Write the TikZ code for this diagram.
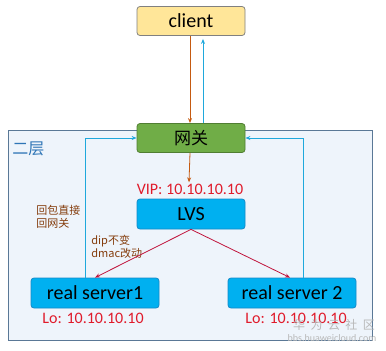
\documentclass[tikz,border=0pt]{standalone}
\usepackage{fontspec}
\setmainfont{Carlito}
\newfontfamily\cjk{Noto Sans CJK SC}
\usetikzlibrary{arrows.meta}

\definecolor{clientfill}{HTML}{FFE699}
\definecolor{gwfill}{HTML}{70AD47}
\definecolor{gwline}{HTML}{507E32}
\definecolor{srvfill}{HTML}{00B0F0}
\definecolor{srvline}{HTML}{1489C8}
\definecolor{layerfill}{HTML}{EEF4FB}
\definecolor{layerline}{HTML}{5A7896}
\definecolor{reqbrown}{HTML}{C55A11}
\definecolor{retblue}{HTML}{1FA8DC}
\definecolor{fwdred}{HTML}{C0143C}
\definecolor{ipred}{HTML}{E01B2B}
\definecolor{notebrown}{HTML}{843C0C}
\definecolor{layerblue}{HTML}{2E75B6}

\begin{document}
\begin{tikzpicture}[
    x=1pt, y=-1pt,
    >={Stealth[length=5pt,width=4pt]},
    line width=0.8pt,
    box/.style={draw, rectangle, rounded corners=3pt, minimum height=29pt, minimum width=108pt, align=center, font=\fontsize{20}{24}\selectfont},
    srv/.style={box, fill=srvfill, draw=srvline, minimum width=128pt, minimum height=30pt},
    ip/.style={text=ipred, inner sep=0pt, font=\fontsize{16}{19}\selectfont},
    note/.style={text=notebrown, align=left, inner sep=0pt, font=\cjk\fontsize{11}{12.5}\selectfont}
]
    \useasboundingbox (0,0) rectangle (386,351);

    % layer 2 area
    \draw[fill=layerfill, draw=layerline] (8,130) rectangle (372,340);
    \node[text=layerblue, anchor=west, inner sep=0pt, font=\cjk\fontsize{16}{19}\selectfont] (layer) at (12,149) {二层};

    % nodes
    \node[box, fill=clientfill, draw=gray] (client) at (191,21) {client};
    \node[box, fill=gwfill, draw=gwline, font=\cjk\fontsize{17}{20}\selectfont] (gw) at (191,138) {网关};
    \node[ip] (vip) at (190,189) {VIP: 10.10.10.10};
    \node[box, fill=srvfill, draw=srvline, minimum height=30pt] (lvs) at (191,214) {LVS};
    \node[srv] (rs1) at (95,293) {real server1};
    \node[srv] (rs2) at (292,293) {real server 2};
    \node[ip] (lo1) at (93,318) {Lo: 10.10.10.10};
    \node[ip] (lo2) at (296,318) {Lo: 10.10.10.10};

    % notes
    \node[note, anchor=west] (retnote) at (36,217) {回包直接\\回网关};
    \node[note, anchor=west] (macnote) at (91,247) {dip不变\\dmac改动};

    % request path
    \draw[->, reqbrown] ([xshift=-1pt]client.south) -- ([xshift=-1pt]gw.north);
    \draw[->, reqbrown] ([xshift=-1pt]gw.south) -- ([xshift=-1pt,yshift=1pt]vip.north);
    \draw[->, fwdred] (lvs.south) -- (rs1.north);
    \draw[->, fwdred] (lvs.south) -- ([xshift=-2pt]rs2.north);

    % return path
    \draw[->, retblue] ([xshift=-10pt]rs1.north) |- (gw.west);
    \draw[->, retblue] ([xshift=11pt]rs2.north) |- (gw.east);
    \draw[->, retblue] ([xshift=12pt]gw.north) -- ([xshift=12pt,yshift=-3pt]client.south);

    % watermark
    \node[text=gray!55, inner sep=0pt, font=\cjk\fontsize{12}{14}\selectfont] (wm) at (334,325) {华\ \ 为\ \ 云\ \ 社\ \ 区};
    \node[text=gray!55, inner sep=0pt, font=\fontsize{10}{12}\selectfont] (wmurl) at (332,338) {bbs.huaweicloud.com};
\end{tikzpicture}
\end{document}
